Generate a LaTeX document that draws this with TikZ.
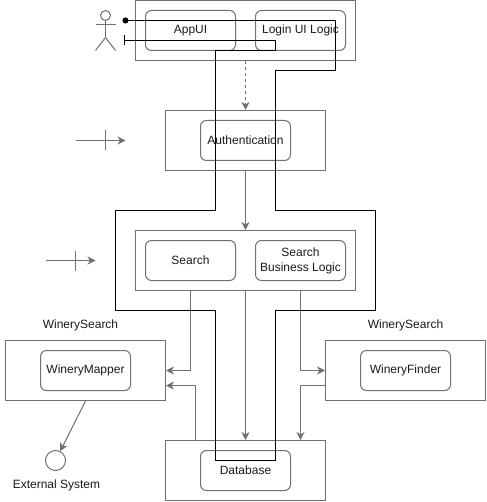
\documentclass[tikz,border=0pt]{standalone}
\usepackage{fontspec}
\setmainfont{Liberation Sans}
\usetikzlibrary{positioning,arrows.meta}

\definecolor{linegrey}{HTML}{707070}
\definecolor{textgrey}{HTML}{1A1A1A}

\begin{document}
\begin{tikzpicture}[x=1pt, y=-1pt, >=Stealth, line width=1pt,
    every node/.style={font=\fontsize{12}{14}\selectfont, text=textgrey, align=center},
    layer/.style={draw=linegrey, minimum width=160pt, minimum height=60pt},
    part/.style={draw=linegrey, rounded corners=6pt, minimum width=90pt, minimum height=40pt},
    link/.style={draw=linegrey, -{Stealth[inset=2.5pt,length=8pt,width=8pt]}},
    tick/.style={draw=linegrey},
    route/.style={draw=black}]
    \useasboundingbox (-0.5,-0.5) rectangle (485.5,501.5);

    % layers, explicit coordinates in pixels of the reference
    \node[layer, minimum width=220pt] (uilayer) at (245,30) {};
    \node[part] (appui)   at (190,30) {AppUI};
    \node[part] (loginui) at (300,30) {Login UI Logic};

    \node[layer] (authlayer) at (245,140) {};
    \node[part]  (auth)      at (245,140) {Authentication};

    \node[layer, minimum width=220pt] (searchlayer) at (245,260) {};
    \node[part] (search)  at (190,260) {Search};
    \node[part] (bizlogic) at (300,260) {Search\\[1pt]Business Logic};

    \node[layer] (mapperlayer) at (85,370) {};
    \node[part]  (mapper)      at (85,370) {WineryMapper};
    \node (mappertitle) at (80,325) {WinerySearch};

    \node[layer] (finderlayer) at (405,370) {};
    \node[part]  (finder)      at (405,370) {WineryFinder};
    \node (findertitle) at (405,325) {WinerySearch};

    \node[layer] (dblayer) at (245,470) {};
    \node[part]  (db)      at (245,470) {Database};

    % external system
    \node[circle, draw=linegrey, minimum size=20pt, inner sep=0pt] (external) at (55,460) {};
    \node (externallabel) at (56,485) {External System};

    % actor
    \node[circle, draw=linegrey, minimum size=10pt, inner sep=0pt] (actorhead) at (105,15) {};
    \coordinate (actorhip) at (105,37);
    \draw[tick] (actorhead.south) -- (actorhip);
    \draw[tick] (95,24) -- (115,24);
    \draw[tick] (actorhip) -- (95,50);
    \draw[tick] (actorhip) -- (115,50);

    % layer connections
    \draw[link, dashed] (uilayer.south) -- (authlayer.north);
    \draw[link] (authlayer.south) -- (searchlayer.north);
    \draw[link] (searchlayer.south) -- (dblayer.north);
    \draw[link] (searchlayer.south -| search) |- (mapperlayer.east);
    \draw[link] (searchlayer.south -| bizlogic) |- (finderlayer.west);
    \draw[link] ([yshift=-15pt]finderlayer.west) -| ([xshift=55pt]dblayer.north);
    \draw[link] ([xshift=-50pt]dblayer.north) |- ([yshift=-15pt]mapperlayer.east);
    \draw[link] (mapperlayer.south) -- (external);

    % markers on the left
    \coordinate (markera) at (75,140);
    \coordinate (markerb) at (45,260);
    \draw[link] (markera) -- ++(50,0);
    \draw[tick] ([xshift=30pt,yshift=10pt]markera) -- ++(0,20);
    \draw[link] (markerb) -- ++(50,0);
    \draw[tick] ([xshift=30pt,yshift=10pt]markerb) -- ++(0,20);

    % black route around the layers
    \coordinate (routestart) at (122,20);
    \coordinate (routeend)   at (123,40);
    \draw[route, {Circle[length=6pt]}-{Bar[width=10pt]}] (routestart) -- (335,20) -- (335,70) -- (275,70) -- (275,210)
        -- (375,210) -- (375,310) -- (275,310) -- (275,460) -- (215,460) -- (215,310)
        -- (115,310) -- (115,210) -- (215,210) -- (215,50) -- (275,50) -- (275,40) -- (routeend);
\end{tikzpicture}
\end{document}
